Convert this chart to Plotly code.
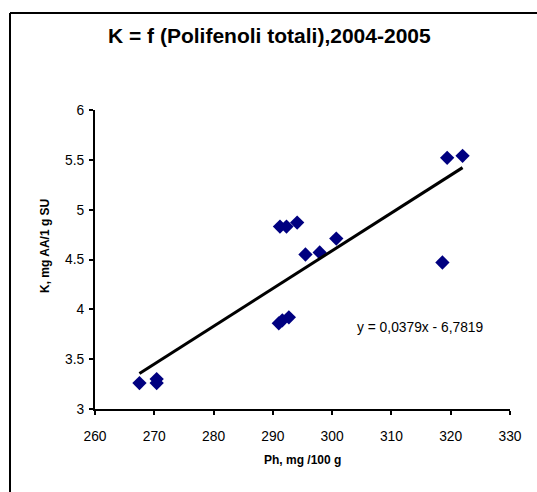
import plotly.graph_objects as go

# Data
ph = [267.5, 270.4, 270.4, 291.0, 291.6, 292.7, 291.2, 292.3, 294.1,
      295.5, 297.9, 300.7, 318.6, 319.4, 322.0]
k = [3.26, 3.30, 3.26, 3.86, 3.89, 3.92, 4.83, 4.83, 4.87,
     4.55, 4.57, 4.71, 4.47, 5.52, 5.54]

slope = 0.0379
intercept = -6.7819
trend_x = [min(ph), max(ph)]
trend_y = [slope * x + intercept for x in trend_x]

title_text = "K = f (Polifenoli totali),2004-2005"
x_title = "Ph, mg /100 g"
y_title = "K, mg AA/1 g SU"
eq_text = "y = 0,0379x - 6,7819"

W, H = 537, 492
L, R, T, B = 95, 27, 110, 83
PW, PH = W - L - R, H - T - B


def px(x):
    return (x - L) / PW


def py(y):
    return (H - B - y) / PH


fig = go.Figure()
fig.add_trace(go.Scatter(x=ph, y=k, mode="markers",
                         marker=dict(symbol="diamond", size=11, color="#000080",
                                     line=dict(width=0)),
                         showlegend=False, cliponaxis=False))
fig.add_trace(go.Scatter(x=trend_x, y=trend_y, mode="lines",
                         line=dict(color="black", width=3), showlegend=False))

font = "Liberation Sans, Arial, sans-serif"
axis_common = dict(showgrid=False, zeroline=False, showline=True, linecolor="black",
                   linewidth=2, ticks="outside", ticklen=4, tickwidth=2, tickcolor="black",
                   tickfont=dict(family=font, size=13.8, color="black"))

fig.update_xaxes(range=[260, 330], tickvals=[260, 270, 280, 290, 300, 310, 320, 330],
                 ticklabelstandoff=9, **axis_common)
fig.update_yaxes(range=[3, 6], tickvals=[3, 3.5, 4, 4.5, 5, 5.5, 6],
                 ticklabelstandoff=2, **axis_common)

# chart-area border (right and bottom edges fall outside the picture)
fig.add_shape(type="line", xref="paper", yref="paper",
              x0=px(10), x1=px(540), y0=py(13), y1=py(13),
              line=dict(color="black", width=2))
fig.add_shape(type="line", xref="paper", yref="paper",
              x0=px(10), x1=px(10), y0=py(13), y1=py(495),
              line=dict(color="black", width=2))

fig.add_annotation(text="<b>" + title_text + "</b>", xref="paper", yref="paper",
                   x=px(269), y=py(36), showarrow=False,
                   font=dict(family=font, size=21, color="black"),
                   xanchor="center", yanchor="middle")
fig.add_annotation(text="<b>" + x_title + "</b>", xref="paper", yref="paper",
                   x=px(302), y=py(460), showarrow=False,
                   font=dict(family=font, size=12, color="black"),
                   xanchor="center", yanchor="middle")
fig.add_annotation(text="<b>" + y_title + "</b>", xref="paper", yref="paper",
                   x=px(45), y=py(246), textangle=-90, showarrow=False,
                   font=dict(family=font, size=12, color="black"),
                   xanchor="center", yanchor="middle")
fig.add_annotation(text=eq_text, xref="paper", yref="paper",
                   x=px(420), y=py(327), showarrow=False,
                   font=dict(family=font, size=13.8, color="black"),
                   xanchor="center", yanchor="middle")

fig.update_layout(width=W, height=H, margin=dict(l=L, r=R, t=T, b=B),
                  paper_bgcolor="white", plot_bgcolor="white", showlegend=False)

fig.write_html("out.html")
